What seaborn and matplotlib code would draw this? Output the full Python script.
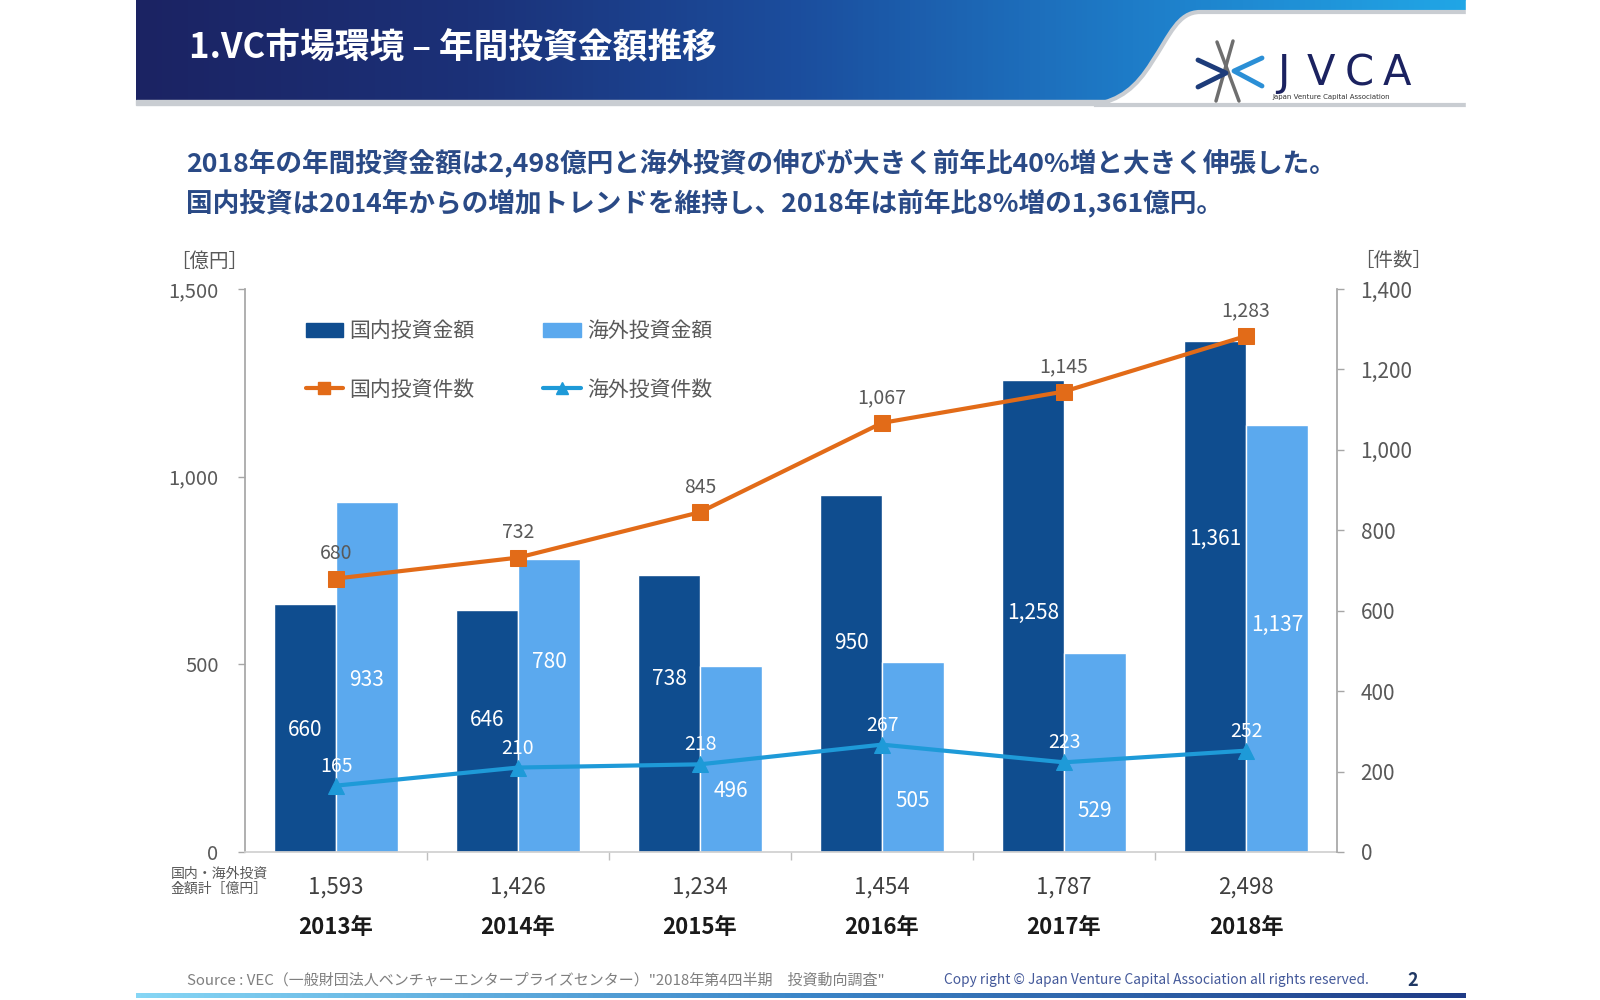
import numpy as np
import pandas as pd
import seaborn as sns
import matplotlib.pyplot as plt
import matplotlib.transforms as mtransforms
from matplotlib.colors import LinearSegmentedColormap
from matplotlib.patches import Rectangle, PathPatch, Patch
from matplotlib.path import Path
from matplotlib.lines import Line2D

# --- data ---
years = ['2013年', '2014年', '2015年', '2016年', '2017年', '2018年']
domestic_amount = [660, 646, 738, 950, 1258, 1361]      # 億円
overseas_amount = [933, 780, 496, 505, 529, 1137]       # 億円
domestic_count = [680, 732, 845, 1067, 1145, 1283]      # 件数
overseas_count = [165, 210, 218, 267, 223, 252]         # 件数
total_amount = [1593, 1426, 1234, 1454, 1787, 2498]     # 億円

# where the slide put the value labels inside the bars (left axis units)
domestic_label_y = [326, 353, 462, 557, 636, 834]
overseas_label_y = [457, 505, 163, 136, 109, 606]

C_DOM = '#0F4D8F'
C_OVS = '#5BA9EE'
C_DOM_LINE = '#E26B18'
C_OVS_LINE = '#1E9AD8'
GREY = '#595959'

sns.set_theme(style='white')
plt.rcParams['font.family'] = ['Noto Sans CJK JP', 'DejaVu Sans']

fig = plt.figure(figsize=(16, 10), dpi=100)

# background layer in pixel coordinates (y goes down)
bg = fig.add_axes([0, 0, 1, 1], zorder=0)
bg.axis('off')

# header band
hdr_cmap = LinearSegmentedColormap.from_list(
    'hdr', ['#1B2363', '#1B3178', '#1B4E9E', '#1E7CC8', '#21A6E6'])
bg.imshow(np.linspace(0, 1, 256).reshape(1, -1), extent=(136, 1466, 101, 0),
          cmap=hdr_cmap, aspect='auto', zorder=1)
bg.add_patch(Rectangle((136, 100), 1330, 5, color='#C9CDD2', zorder=1))
verts = [(1480, 12), (1200, 12),
         (1178, 12), (1170, 35), (1152, 62),
         (1136, 88), (1120, 100), (1094, 105),
         (1480, 105), (1480, 12)]
codes = [Path.MOVETO, Path.LINETO,
         Path.CURVE4, Path.CURVE4, Path.CURVE4,
         Path.CURVE4, Path.CURVE4, Path.CURVE4,
         Path.LINETO, Path.CLOSEPOLY]
bg.add_patch(PathPatch(Path(verts, codes), facecolor='white',
                       edgecolor='#C9CDD2', lw=3, zorder=2))
bg.add_patch(Rectangle((1466, 0), 134, 110, color='white', zorder=3))

bg.text(189, 48, '1.VC市場環境 – 年間投資金額推移', color='white', fontsize=25,
        fontweight='bold', ha='left', va='center', zorder=4)

# JVCA logo, roughly
for (x0, y0, x1, y1) in [(1217, 42, 1239, 101), (1233, 41, 1216, 101)]:
    bg.plot([x0, x1], [y0, y1], color='#6E6E6E', lw=2.5, zorder=4)
bg.plot([1198, 1226, 1198], [60, 73, 87], color='#1D3C7A', lw=3.5, zorder=4)
bg.plot([1262, 1234, 1262], [58, 71, 86], color='#2B8FD6', lw=3.5, zorder=4)
for letter, lx in zip('JVCA', [1283, 1321, 1359, 1397]):
    bg.text(lx, 73, letter, color='#1B2260', fontsize=30, family='DejaVu Sans',
            ha='center', va='center', zorder=4)
bg.text(1272, 97, 'Japan Venture Capital Association', color='#333333',
        fontsize=5, family='DejaVu Sans', ha='left', va='center', zorder=4)

# headline
bg.text(186, 163, '2018年の年間投資金額は2,498億円と海外投資の伸びが大きく前年比40%増と大きく伸張した。',
        color='#2A4A86', fontsize=19.2, fontweight='bold', ha='left', va='center')
bg.text(186, 203, '国内投資は2014年からの増加トレンドを維持し、2018年は前年比8%増の1,361億円。',
        color='#2A4A86', fontsize=19.2, fontweight='bold', ha='left', va='center')

# footer
bg.imshow(np.linspace(0, 1, 256).reshape(1, -1), extent=(136, 1466, 998, 993),
          cmap=LinearSegmentedColormap.from_list('ftr', ['#86D6F5', '#3C86C8', '#1F3B86']),
          aspect='auto', zorder=1)
bg.text(187, 980, 'Source : VEC（一般財団法人ベンチャーエンタープライズセンター）"2018年第4四半期　投資動向調査"',
        color='#7F7F7F', fontsize=10.8, ha='left', va='center')
bg.text(944, 980, 'Copy right © Japan Venture Capital Association all rights reserved.',
        color='#44599A', fontsize=9.9, ha='left', va='center')
bg.text(1413, 980, '2', color='#203864', fontsize=13, fontweight='bold',
        ha='center', va='center')

bg.set_xlim(0, 1600)
bg.set_ylim(1000, 0)

# --- chart ---
ax = fig.add_axes([245 / 1600, 1 - 852 / 1000, (1337 - 245) / 1600, (852 - 289) / 1000],
                  zorder=1)
ax.set_facecolor('none')

bars = pd.DataFrame({
    'year': years * 2,
    'amount': domestic_amount + overseas_amount,
    'kind': ['国内投資金額'] * len(years) + ['海外投資金額'] * len(years),
})
sns.barplot(data=bars, x='year', y='amount', hue='kind', palette=[C_DOM, C_OVS],
            width=0.68, gap=0, saturation=1, legend=False, ax=ax, zorder=2)

ax.set_xlim(-0.5, len(years) - 0.5)
ax.set_ylim(0, 1500)
ax.set_yticks([0, 500, 1000, 1500])
ax.set_yticklabels([f'{v:,}' for v in [0, 500, 1000, 1500]])
ax.set_xlabel('')
ax.set_ylabel('')
ax.set_xticks(range(len(years)))
ax.set_xticklabels([])
ax.set_xticks(np.arange(0.5, len(years) - 1), minor=True)
ax.tick_params(axis='x', which='major', length=0)
ax.tick_params(axis='x', which='minor', bottom=True, length=6, width=1, color='#BFBFBF')
ax.tick_params(axis='y', left=True, length=5, width=1, color='#A6A6A6',
               labelcolor=GREY, labelsize=14.5, pad=14)
for side in ['top', 'right']:
    ax.spines[side].set_visible(False)
ax.spines['left'].set_color('#A6A6A6')
ax.spines['bottom'].set_color('#D0D0D0')

for i in range(len(years)):
    ax.text(i - 0.17, domestic_label_y[i], f'{domestic_amount[i]:,}', color='white',
            fontsize=15, ha='center', va='center', zorder=5)
    ax.text(i + 0.17, overseas_label_y[i], f'{overseas_amount[i]:,}', color='white',
            fontsize=15, ha='center', va='center', zorder=5)

ax2 = ax.twinx()
xs = np.arange(len(years))
sns.lineplot(x=xs, y=domestic_count, color=C_DOM_LINE, lw=3, marker='s', ms=11,
             mec=C_DOM_LINE, ax=ax2)
sns.lineplot(x=xs, y=overseas_count, color=C_OVS_LINE, lw=3, marker='^', ms=12,
             mec=C_OVS_LINE, ax=ax2)
ax2.set_ylim(0, 1400)
ax2.set_yticks(range(0, 1401, 200))
ax2.set_yticklabels([f'{v:,}' for v in range(0, 1401, 200)])
ax2.tick_params(axis='y', right=True, length=5, width=1, color='#A6A6A6',
                labelcolor=GREY, labelsize=15, pad=12)
for side in ['top', 'left', 'bottom']:
    ax2.spines[side].set_visible(False)
ax2.spines['right'].set_color('#A6A6A6')

for i in range(len(years)):
    ax2.annotate(f'{domestic_count[i]:,}', (i, domestic_count[i]), xytext=(0, 18),
                 textcoords='offset points', ha='center', va='center',
                 color=GREY, fontsize=14)
    ax2.annotate(f'{overseas_count[i]:,}', (i, overseas_count[i]), xytext=(0, 14),
                 textcoords='offset points', ha='center', va='center',
                 color='white', fontsize=14)

handles = [
    Patch(color=C_DOM, label='国内投資金額'),
    Line2D([], [], color=C_DOM_LINE, lw=3, marker='s', ms=9, label='国内投資件数'),
    Patch(color=C_OVS, label='海外投資金額'),
    Line2D([], [], color=C_OVS_LINE, lw=3, marker='^', ms=9, label='海外投資件数'),
]
leg = ax2.legend(handles=handles, ncol=2, loc='upper left', bbox_to_anchor=(0.046, 0.963),
                 frameon=False, fontsize=15, handlelength=1.8, handletextpad=0.3,
                 columnspacing=3.3, labelspacing=1.75, borderpad=0)
for t in leg.get_texts():
    t.set_color(GREY)

# totals and year labels under the axis
under = mtransforms.blended_transform_factory(ax.transData, bg.transData)
for i in range(len(years)):
    ax.text(i, 887, f'{total_amount[i]:,}', transform=under, color='#404040',
            fontsize=16, ha='center', va='center')
    ax.text(i, 927, years[i], transform=under, color='#1A1A1A', fontsize=16,
            fontweight='bold', ha='center', va='center')

bg.text(219, 881, '国内・海外投資\n金額計［億円］', color=GREY, fontsize=10,
        ha='center', va='center', linespacing=1.1)
bg.text(209, 261, '［億円］', color=GREY, fontsize=14, ha='center', va='center')
bg.text(1393, 261, '［件数］', color=GREY, fontsize=14, ha='center', va='center')

fig.savefig('out.png', dpi=100, facecolor='white')
